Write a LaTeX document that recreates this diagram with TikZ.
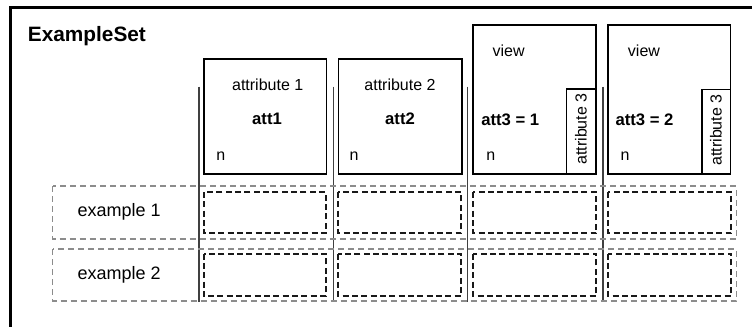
\documentclass[tikz,border=0pt]{standalone}
\usepackage{fontspec}
\setmainfont{Liberation Sans}
\begin{document}
\begin{tikzpicture}[x=0.75pt,y=-0.75pt,
  frame/.style={draw=black,line width=2.6pt},
  colbox/.style={draw=black,line width=1.2pt},
  sepline/.style={draw=black!75,line width=0.8pt},
  rowbox/.style={draw=black!45,line width=0.8pt,dash pattern=on 4.5pt off 3pt},
  cellbox/.style={draw=black!90,line width=1.3pt,dash pattern=on 4.5pt off 2.5pt},
  txt/.style={inner sep=0pt,font=\fontsize{12}{14}\selectfont},
  btxt/.style={inner sep=0pt,font=\fontsize{12.5}{15}\selectfont\bfseries},
  extxt/.style={inner sep=0pt,font=\fontsize{13.5}{16}\selectfont},
  title/.style={inner sep=0pt,font=\fontsize{15.6}{18}\selectfont\bfseries}]
\useasboundingbox (0,0) rectangle (752,326);
% outer frame (only left and top edges visible)
\draw[frame] (10.5,340) -- (10.5,7.5) -- (770,7.5);
\node[title,anchor=base west] (ttl) at (27.7,41.7) {ExampleSet};
% separators
\foreach \x/\n in {199/s1,333.7/s2,467.7/s3,603/s4}
  \draw[sepline] (\x,86.7) -- (\x,301.7);
% example rows
\draw[rowbox] (52.7,186) rectangle (736.3,239);
\draw[rowbox] (52.7,249) rectangle (736.3,301);
\node[extxt,anchor=base west] (ex1) at (77.3,216.7) {example 1};
\node[extxt,anchor=base west] (ex2) at (77.3,279) {example 2};
% cells
\foreach \a/\b in {203.7/325.7,338.3/461,473.3/596.3,608.3/731.3}{
  \draw[cellbox] (\a,192) rectangle (\b,233.3);
  \draw[cellbox] (\a,253.7) rectangle (\b,296);
}
% attribute columns
\draw[colbox] (203.7,58.7) rectangle (326.3,174);
\draw[colbox] (338.3,58.7) rectangle (461.7,174);
\node[txt,anchor=base] (a1) at (267.7,90.7) {attribute 1};
\node[txt,anchor=base] (a2) at (400,90.7) {attribute 2};
\node[btxt,anchor=base] (v1) at (267,124) {att1};
\node[btxt,anchor=base] (v2) at (400,124) {att2};
\node[txt,anchor=base west] (n1) at (216,160) {n};
\node[txt,anchor=base west] (n2) at (349.3,160) {n};
% view columns
\draw[colbox] (472.7,25) rectangle (596,174);
\draw[colbox] (566.3,88.7) rectangle (596,174);
\draw[colbox] (607.7,25) rectangle (730.3,174);
\draw[colbox] (701.7,89.3) rectangle (730.3,174);
\node[txt,anchor=base west] (w3) at (492.3,56.7) {view};
\node[txt,anchor=base west] (w4) at (627.7,56.7) {view};
\node[btxt,anchor=base west] (v3) at (481,125) {att3 = 1};
\node[btxt,anchor=base west] (v4) at (615.3,125) {att3 = 2};
\node[txt,rotate=90] (r3) at (581,129) {attribute 3};
\node[txt,rotate=90] (r4) at (716,130) {attribute 3};
\node[txt,anchor=base west] (n3) at (486,160) {n};
\node[txt,anchor=base west] (n4) at (620.3,160) {n};
\end{tikzpicture}
\end{document}
